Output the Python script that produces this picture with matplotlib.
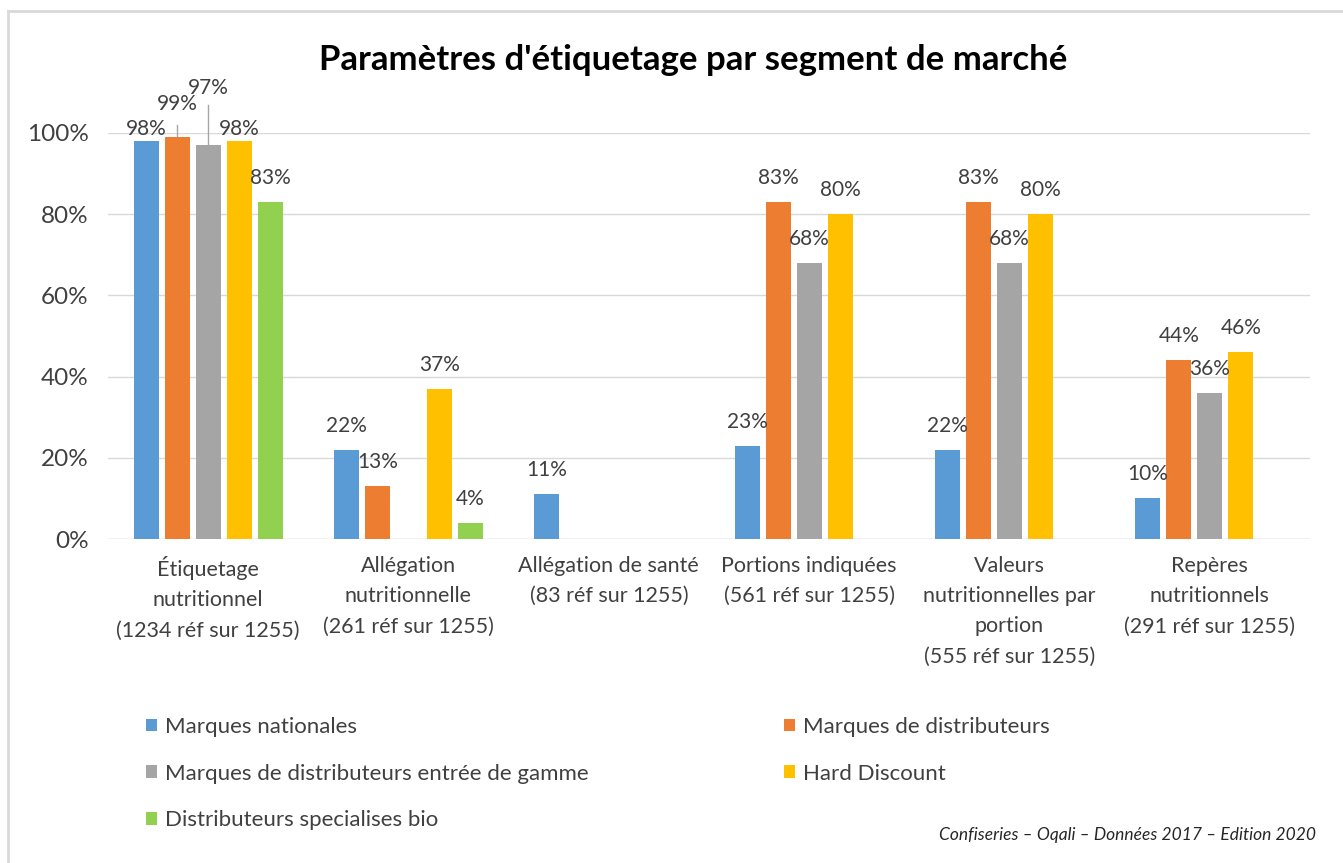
import numpy as np
import matplotlib.pyplot as plt
from matplotlib.patches import Patch
from matplotlib.lines import Line2D

plt.rcParams['font.family'] = ['Lato', 'DejaVu Sans']

# Data
categories = [
    "Étiquetage\nnutritionnel\n(1234 réf sur 1255)",
    "Allégation\nnutritionnelle\n(261 réf sur 1255)",
    "Allégation de santé\n(83 réf sur 1255)",
    "Portions indiquées\n(561 réf sur 1255)",
    "Valeurs\nnutritionnelles par\nportion\n(555 réf sur 1255)",
    "Repères\nnutritionnels\n(291 réf sur 1255)",
]
series_names = [
    "Marques nationales",
    "Marques de distributeurs",
    "Marques de distributeurs entrée de gamme",
    "Hard Discount",
    "Distributeurs specialises bio",
]
marques_nationales = [98, 22, 11, 23, 22, 10]
marques_distributeurs = [99, 13, None, 83, 83, 44]
mdd_entree_gamme = [97, None, None, 68, 68, 36]
hard_discount = [98, 37, None, 80, 80, 46]
bio = [83, 4, None, None, None, None]
values = [marques_nationales, marques_distributeurs, mdd_entree_gamme, hard_discount, bio]
colors = ["#5B9BD5", "#ED7D31", "#A5A5A5", "#FFC000", "#92D050"]

W, H = 1343, 863
PX_PER_PT = 100 / 72
AX_H = 539 - 133

fig = plt.figure(figsize=(W / 100, H / 100), dpi=100)
ax = fig.add_axes([108 / W, 1 - 539 / H, (1310 - 108) / W, AX_H / H])
ax.set_ylim(0, 100)
ax.set_xlim(-0.5, len(categories) - 0.5)

x = np.arange(len(categories))
step = 0.155
width = 0.125
# label centre height above the bar top, in pixels
default_off = 24
label_off = {(0, 0): 12, (0, 3): 12, (0, 1): 33, (0, 2): 57}
# labels moved far from their bar get a leader line
leaders = {(0, 1): 12, (0, 2): 40}

for i, (vals, col) in enumerate(zip(values, colors)):
    for j, v in enumerate(vals):
        if v is None:
            continue
        xc = x[j] + (i - 2) * step
        ax.bar(xc, v, width=width, color=col, zorder=3)
        off = label_off.get((j, i), default_off)
        ax.annotate(f"{v}%", (xc, v), xytext=(0, off / PX_PER_PT), textcoords="offset points",
                    ha="center", va="center", fontsize=15, color="#404040", zorder=4)
        if (j, i) in leaders:
            top = v + leaders[(j, i)] / AX_H * 100
            ax.add_line(Line2D([xc, xc], [v, top], color="#A6A6A6", lw=1, zorder=2,
                               clip_on=False))

ax.set_yticks(range(0, 101, 20))
ax.set_yticklabels([f"{t}%" for t in range(0, 101, 20)], fontsize=17.5, color="#404040")
ax.set_xticks(x)
ax.set_xticklabels(categories, fontsize=15.5, color="#404040", linespacing=1.65, va="top")
ax.tick_params(axis="both", length=0)
ax.tick_params(axis="x", pad=12)
ax.tick_params(axis="y", pad=14)
ax.yaxis.grid(True, color="#D9D9D9", lw=1, zorder=0)
for s in ax.spines.values():
    s.set_visible(False)
ax.axhline(0, color="#D9D9D9", lw=1, zorder=1)

fig.text(693 / W, 1 - 60 / H, "Paramètres d'étiquetage par segment de marché",
         ha="center", va="center", fontsize=25, fontweight="bold", color="black")

# Legend in two columns, filled row by row as in the original
handles = [Patch(facecolor=c, edgecolor="none") for c in colors]
leg_kw = dict(loc="upper left", frameon=False, fontsize=16, handlelength=0.5,
              handleheight=0.5, handletextpad=0.35, labelspacing=1.2,
              labelcolor="#404040", borderaxespad=0)
fig.legend([handles[0], handles[2], handles[4]],
           [series_names[0], series_names[2], series_names[4]],
           bbox_to_anchor=(137 / W, 1 - 708 / H), **leg_kw)
fig.legend([handles[1], handles[3]], [series_names[1], series_names[3]],
           bbox_to_anchor=(775 / W, 1 - 708 / H), **leg_kw)

fig.text(1316 / W, 1 - 835 / H, "Confiseries – Oqali – Données 2017 – Edition 2020",
         ha="right", va="center", fontsize=12.5, style="italic", color="#262626")

# outer frame (top and left edges visible)
fig.add_artist(Line2D([8 / W, 1], [1 - 11 / H, 1 - 11 / H], color="#D9D9D9", lw=2))
fig.add_artist(Line2D([8 / W, 8 / W], [0, 1 - 11 / H], color="#D9D9D9", lw=2))

fig.savefig("out.png", dpi=100, facecolor="white")
